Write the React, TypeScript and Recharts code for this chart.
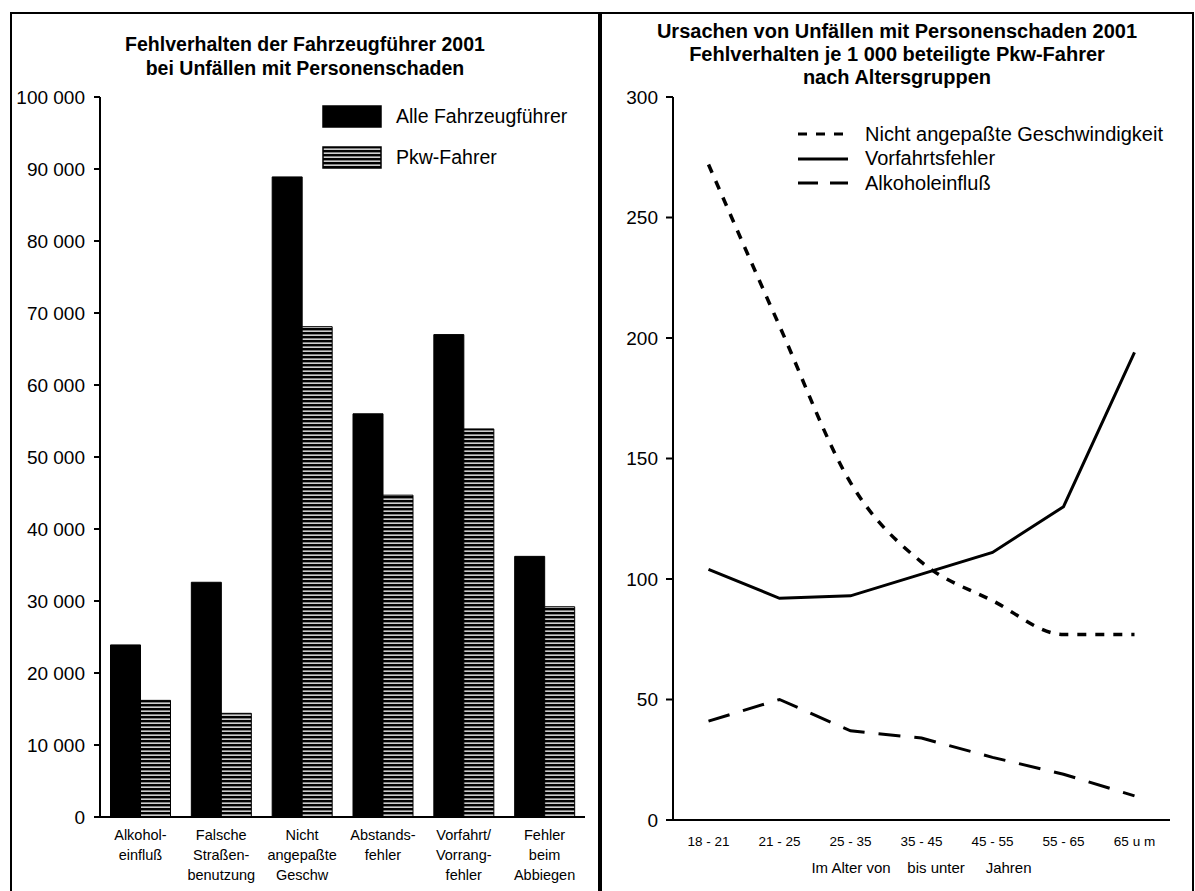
import { Bar, BarChart, ComposedChart, Legend, Line, XAxis, YAxis } from "recharts";

// left panel: Fehlverhalten der Fahrzeugführer 2001
const causes = [
  "Alkohol-\neinfluß",
  "Falsche\nStraßen-\nbenutzung",
  "Nicht\nangepaßte\nGeschw",
  "Abstands-\nfehler",
  "Vorfahrt/\nVorrang-\nfehler",
  "Fehler\nbeim\nAbbiegen",
];
const alleFahrzeugfuehrer = [23900, 32600, 88900, 56000, 67000, 36200];
const pkwFahrer = [16200, 14400, 68100, 44700, 53900, 29200];
const barTicks = [0, 10000, 20000, 30000, 40000, 50000, 60000, 70000, 80000, 90000, 100000];
const causeEdges = [0, 1, 2, 3, 4, 5, 6];

// right panel: Fehlverhalten je 1 000 Pkw-Fahrer nach Altersgruppen
const ageGroups = ["18 - 21", "21 - 25", "25 - 35", "35 - 45", "45 - 55", "55 - 65", "65 u m"];
const geschwindigkeit = [272, 205, 140, 107, 91, 77, 77];
const vorfahrt = [104, 92, 93, 102, 111, 130, 194];
const alkohol = [41, 50, 37, 34, 26, 19, 10];
const lineTicks = [0, 50, 100, 150, 200, 250, 300];
const ageEdges = [0, 1, 2, 3, 4, 5, 6, 7];

const barData = causes.map((c, i) => ({ cause: c, alle: alleFahrzeugfuehrer[i], pkw: pkwFahrer[i] }));
const lineData = ageGroups.map((a, i) => ({
  age: a,
  speed: geschwindigkeit[i],
  vorfahrt: vorfahrt[i],
  alkohol: alkohol[i],
}));

const FONT = "'Liberation Sans', Arial, sans-serif";
const fmt = (v: number) => (v >= 1000 ? `${Math.floor(v / 1000)} ${String(v % 1000).padStart(3, "0")}` : String(v));
const gap = (n: number) => "\u00a0".repeat(n);

function CauseTick({ x, y, payload }: any) {
  const lines = String(payload.value).split("\n");
  return (
    <text x={x} y={y} textAnchor="middle" fontSize={14.5} fontFamily={FONT} fill="#000">
      {lines.map((l, i) => (
        <tspan key={i} x={x} dy={i === 0 ? 15 : 20}>
          {l}
        </tspan>
      ))}
    </text>
  );
}

function BarLegend() {
  const items = [
    { label: "Alle Fahrzeugführer", fill: "#000" },
    { label: "Pkw-Fahrer", fill: "url(#stripes)" },
  ];
  return (
    <div style={{ fontFamily: FONT, fontSize: 19.5 }}>
      {items.map((it) => (
        <div key={it.label} style={{ display: "flex", alignItems: "center", height: 41 }}>
          <svg width={60} height={23} style={{ marginRight: 14 }}>
            <rect x={1} y={1} width={58} height={21} fill={it.fill} stroke="#000" strokeWidth={1.5} />
          </svg>
          {it.label}
        </div>
      ))}
    </div>
  );
}

function LineLegend() {
  const items = [
    { label: "Nicht angepaßte Geschwindigkeit", dash: "9 9" },
    { label: "Vorfahrtsfehler", dash: undefined },
    { label: "Alkoholeinfluß", dash: "20 12" },
  ];
  return (
    <div style={{ fontFamily: FONT, fontSize: 20 }}>
      {items.map((it) => (
        <div key={it.label} style={{ display: "flex", alignItems: "center", height: 24.5 }}>
          <svg width={50} height={10} style={{ marginRight: 17 }}>
            <line x1={0} y1={5} x2={50} y2={5} stroke="#000" strokeWidth={3} strokeDasharray={it.dash} />
          </svg>
          {it.label}
        </div>
      ))}
    </div>
  );
}

const panel: React.CSSProperties = {
  position: "absolute",
  top: 12,
  height: 890,
  border: "2px solid #000",
  boxSizing: "border-box",
  background: "#fff",
};
const title: React.CSSProperties = {
  position: "absolute",
  left: 0,
  right: 0,
  textAlign: "center",
  fontFamily: FONT,
  fontWeight: "bold",
  color: "#000",
};
const axisStyle = { stroke: "#000", strokeWidth: 2 };
const tickFont = { fill: "#000", fontSize: 19, fontFamily: FONT };

export default function App() {
  return (
    <div style={{ position: "absolute", left: 0, top: 0, width: 1195, height: 891, background: "#fff", overflow: "hidden" }}>
      <div style={{ ...panel, left: 10, width: 590 }}>
        <div style={{ ...title, top: 18, fontSize: 19.5, lineHeight: "24px" }}>
          Fehlverhalten der Fahrzeugführer 2001
          <br />
          bei Unfällen mit Personenschaden
        </div>
        <div style={{ position: "absolute", left: -2, top: -2 }}>
          <BarChart width={588} height={879} data={barData} margin={{ top: 85, right: 13, left: 5, bottom: 4 }} barGap={0} barCategoryGap="13%">
            <defs>
              <pattern id="stripes" width={4} height={4} patternUnits="userSpaceOnUse">
                <rect width={4} height={4} fill="#000" />
                <rect y={2.5} width={4} height={1.3} fill="#fff" />
              </pattern>
            </defs>
            <XAxis xAxisId="edges" type="number" domain={[0, 6]} ticks={causeEdges} tick={false} height={0} axisLine={false} tickLine={axisStyle} tickSize={6} />
            <XAxis dataKey="cause" interval={0} tick={<CauseTick />} tickLine={false} axisLine={axisStyle} height={70} />
            <XAxis xAxisId="top" orientation="top" dataKey="cause" tick={false} tickLine={false} axisLine={axisStyle} height={0} />
            <YAxis domain={[0, 100000]} ticks={barTicks} tickFormatter={fmt} width={85} tickSize={6} tickMargin={9} tick={tickFont} tickLine={axisStyle} axisLine={axisStyle} />
            <YAxis yAxisId="right" orientation="right" tick={false} tickLine={false} width={0} axisLine={axisStyle} />
            <Legend layout="horizontal" verticalAlign="middle" align="center" wrapperStyle={{ top: 84, left: 312, width: 270 }} content={<BarLegend />} />
            <Bar dataKey="alle" name="Alle Fahrzeugführer" fill="#000" stroke="#000" strokeWidth={1} isAnimationActive={false} />
            <Bar dataKey="pkw" name="Pkw-Fahrer" fill="url(#stripes)" stroke="#000" strokeWidth={1} isAnimationActive={false} />
          </BarChart>
        </div>
      </div>

      <div style={{ ...panel, left: 600, width: 594 }}>
        <div style={{ ...title, top: 6, fontSize: 20, lineHeight: "23px" }}>
          Ursachen von Unfällen mit Personenschaden 2001
          <br />
          Fehlverhalten je 1 000 beteiligte Pkw-Fahrer
          <br />
          nach Altersgruppen
        </div>
        <div style={{ position: "absolute", left: -2, top: -2 }}>
          <ComposedChart width={592} height={879} data={lineData} margin={{ top: 85, right: 22, left: 5, bottom: 4 }}>
            <XAxis xAxisId="edges" type="number" domain={[0, 7]} ticks={ageEdges} tick={false} height={0} axisLine={false} tickLine={axisStyle} tickSize={6} />
            <XAxis
              dataKey="age"
              interval={0}
              padding={{ left: 35.5, right: 35.5 }}
              tickLine={false}
              tickSize={6}
              tickMargin={10}
              tick={{ fill: "#000", fontSize: 13.5, fontFamily: FONT }}
              axisLine={axisStyle}
              height={67}
              label={{
                value: `Im Alter von${gap(4)}bis unter${gap(5)}Jahren`,
                position: "insideBottom",
                offset: 14,
                style: { fill: "#000", fontSize: 15, fontFamily: FONT },
              }}
            />
            <XAxis xAxisId="top" orientation="top" dataKey="age" tick={false} tickLine={false} axisLine={axisStyle} height={0} />
            <YAxis domain={[0, 300]} ticks={lineTicks} width={68} tickSize={7} tickMargin={8} tick={tickFont} tickLine={axisStyle} axisLine={axisStyle} />
            <YAxis yAxisId="right" orientation="right" tick={false} tickLine={false} width={0} axisLine={axisStyle} />
            <Legend layout="horizontal" verticalAlign="middle" align="center" wrapperStyle={{ top: 110, left: 198, width: 385 }} content={<LineLegend />} />
            <Line type="monotone" dataKey="speed" name="Nicht angepaßte Geschwindigkeit" stroke="#000" strokeWidth={3.5} strokeDasharray="9 9" dot={false} isAnimationActive={false} />
            <Line type="linear" dataKey="vorfahrt" name="Vorfahrtsfehler" stroke="#000" strokeWidth={3} dot={false} isAnimationActive={false} />
            <Line type="linear" dataKey="alkohol" name="Alkoholeinfluß" stroke="#000" strokeWidth={3} strokeDasharray="22 14" dot={false} isAnimationActive={false} />
          </ComposedChart>
        </div>
      </div>
    </div>
  );
}
